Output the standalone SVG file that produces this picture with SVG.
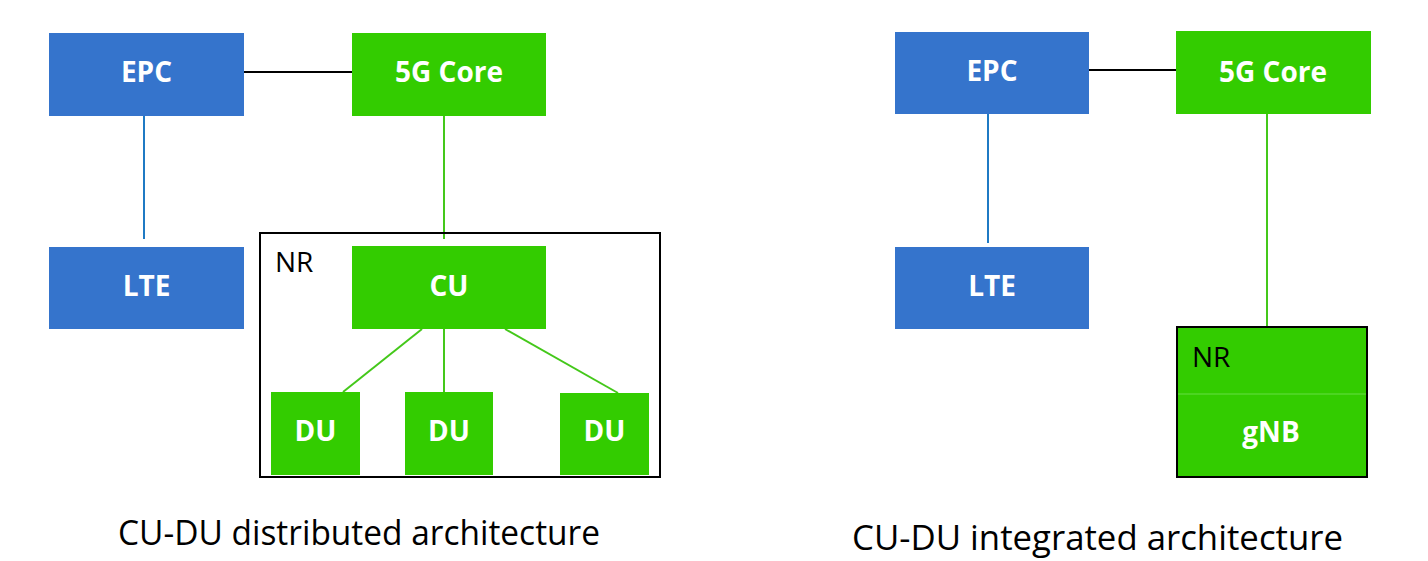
<svg xmlns="http://www.w3.org/2000/svg" width="1428" height="561" viewBox="0 0 1428 561">
<style>
.blue{fill:#3574cc}
.green{fill:#33cc00}
.lbl{font-family:"Open Sans","Liberation Sans",sans-serif;font-weight:bold;font-size:28px;fill:#ffffff;text-anchor:middle}
.nr{font-family:"Open Sans","Liberation Sans",sans-serif;font-size:28px;fill:#000000}
.cap{font-family:"Open Sans","Liberation Sans",sans-serif;font-size:34px;fill:#000000}
.lb{stroke:#1f7ac4;stroke-width:2;fill:none}
.lg{stroke:#44c81a;stroke-width:2;fill:none}
.lk{stroke:#000000;stroke-width:2;fill:none}
</style>
<rect width="1428" height="561" fill="#ffffff"/>
<g id="connectors">
<line class="lk" x1="244" y1="72" x2="352" y2="72"/>
<line class="lb" x1="144" y1="116" x2="144" y2="239"/>
<line class="lg" x1="444" y1="116" x2="444" y2="239"/>
<line class="lg" x1="422" y1="329" x2="343" y2="392"/>
<line class="lg" x1="444" y1="329" x2="444" y2="392"/>
<line class="lg" x1="505" y1="329" x2="618" y2="393"/>
<line class="lk" x1="1089" y1="70" x2="1176" y2="70"/>
<line class="lb" x1="988" y1="114" x2="988" y2="243"/>
<line class="lg" x1="1267" y1="114" x2="1267" y2="328"/>
</g>
<g id="nr-left">
<rect x="260" y="233" width="400" height="244" fill="none" stroke="#000" stroke-width="2"/>
<text class="nr" x="275" y="272">NR</text>
</g>
<g id="epc-left"><rect class="blue" x="49" y="33" width="195" height="83"/><text class="lbl" x="146.5" y="82">EPC</text></g>
<g id="core-left"><rect class="green" x="352" y="33" width="194" height="83"/><text class="lbl" x="449" y="82">5G Core</text></g>
<g id="lte-left"><rect class="blue" x="49" y="247" width="195" height="82"/><text class="lbl" x="146.5" y="296">LTE</text></g>
<g id="cu"><rect class="green" x="352" y="246" width="194" height="83"/><text class="lbl" x="449" y="296">CU</text></g>
<g id="du1"><rect class="green" x="271" y="392" width="89" height="83"/><text class="lbl" x="315.5" y="441">DU</text></g>
<g id="du2"><rect class="green" x="405" y="392" width="88" height="83"/><text class="lbl" x="449" y="441">DU</text></g>
<g id="du3"><rect class="green" x="560" y="393" width="89" height="82"/><text class="lbl" x="604.5" y="441">DU</text></g>
<g id="epc-right"><rect class="blue" x="895" y="32" width="194" height="82"/><text class="lbl" x="992" y="81">EPC</text></g>
<g id="core-right"><rect class="green" x="1176" y="31" width="195" height="83"/><text class="lbl" x="1273" y="82">5G Core</text></g>
<g id="lte-right"><rect class="blue" x="895" y="247" width="194" height="82"/><text class="lbl" x="992" y="296">LTE</text></g>
<g id="gnb">
<rect class="green" x="1177" y="327" width="190" height="150" stroke="#000" stroke-width="2"/>
<line x1="1178" y1="394" x2="1366" y2="394" stroke="#66dd44" stroke-width="1"/>
<text class="nr" x="1192" y="367">NR</text>
<text class="lbl" x="1271" y="442">gNB</text>
</g>
<text class="cap" x="118" y="545" textLength="482" lengthAdjust="spacingAndGlyphs">CU-DU distributed architecture</text>
<text class="cap" x="852" y="550" textLength="491" lengthAdjust="spacingAndGlyphs">CU-DU integrated architecture</text>
</svg>
